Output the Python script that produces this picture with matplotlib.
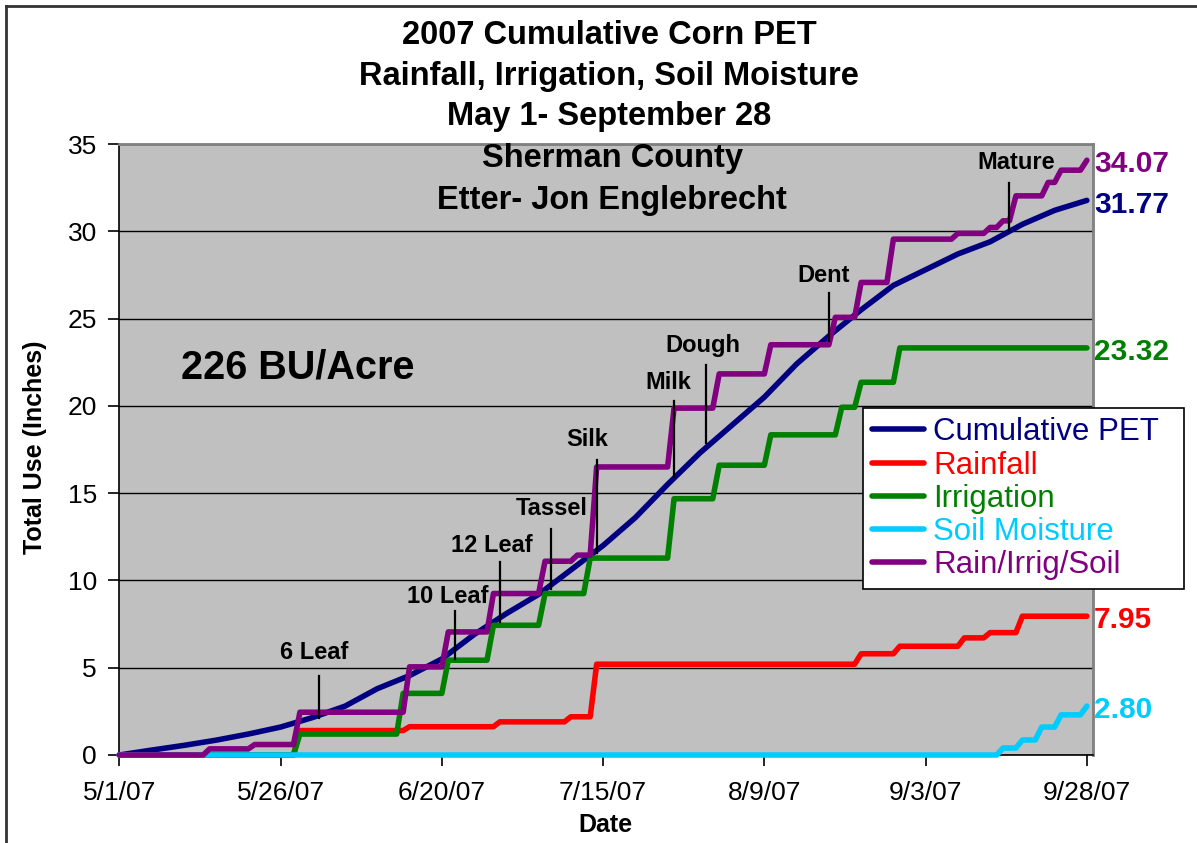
import matplotlib
matplotlib.use('Agg')
import matplotlib.pyplot as plt
from matplotlib.lines import Line2D
from datetime import datetime, timedelta

plt.rcParams['font.family'] = ['Liberation Sans', 'DejaVu Sans']

# season starts 5/1/07, all days counted from there
season_start = datetime(2007, 5, 1)
season_len = 150

# cumulative PET
pet_days = [0, 5, 10, 15, 20, 25, 30, 35, 40, 45, 50, 55, 60, 65, 70, 75,
            80, 85, 90, 95, 100, 105, 110, 115, 120, 125, 130, 135, 140, 145, 150]
pet_vals = [0.0, 0.28, 0.55, 0.85, 1.2, 1.6, 2.15, 2.8, 3.8, 4.55, 5.5, 6.9, 8.1, 9.2, 10.6, 12.0,
            13.6, 15.5, 17.3, 18.9, 20.5, 22.4, 24.0, 25.5, 26.9, 27.8, 28.7, 29.4, 30.4, 31.2, 31.77]

# step series: day the new cumulative total is reached -> total
rain_days = [27, 44, 58, 69, 73, 114, 120, 130, 134, 139]
rain_vals = [1.40, 1.62, 1.90, 2.19, 5.20, 5.80, 6.23, 6.71, 7.01, 7.95]

irr_days = [27, 43, 50, 57, 65, 72, 85, 92, 100, 111, 114, 120]
irr_vals = [1.20, 3.53, 5.43, 7.43, 9.25, 11.28, 14.68, 16.60, 18.34, 19.92, 21.35, 23.32]

soil_days = [136, 139, 142, 145, 149]
soil_vals = [0.40, 0.86, 1.60, 2.30, 2.80]

total_days = [13, 20, 27, 44, 50, 57, 65, 70, 73, 85, 92, 100, 110, 114, 119,
              129, 134, 136, 138, 143, 145, 149]
total_vals = [0.35, 0.60, 2.45, 5.05, 7.05, 9.25, 11.10, 11.45, 16.50, 19.87, 21.83, 23.50,
              25.07, 27.07, 29.55, 29.88, 30.22, 30.60, 32.03, 32.80, 33.50, 34.07]

end_labels = ['34.07', '31.77', '23.32', '7.95', '2.80']

# growth stages
stage_names = ['6 Leaf', '10 Leaf', '12 Leaf', 'Tassel', 'Silk', 'Milk', 'Dough', 'Dent', 'Mature']
stage_days = [31, 52, 59, 67, 74, 86, 91, 110, 138]
# marker line top/bottom and label position (annotation layout)
stage_lines = [(4.5, 2.1), (8.25, 5.5), (11.05, 7.6), (12.95, 9.5), (16.9, 11.55),
               (20.3, 15.95), (22.35, 17.85), (26.45, 23.7), (32.75, 30.0)]
stage_text = [(-0.8, 5.85), (-1.1, 9.1), (-1.2, 12.0), (0.0, 14.1), (-1.4, 18.05),
              (-0.9, 21.35), (-0.5, 23.45), (-0.8, 27.45), (1.0, 33.95)]

tick_days = [0, 25, 50, 75, 100, 125, 150]

colors = {'pet': '#000080', 'rain': '#FF0000', 'irr': '#008000',
          'soil': '#00CCFF', 'total': '#800080'}


def to_date(d):
    return season_start + timedelta(days=d)


def step_line(days, vals):
    xs, ys, prev = [0], [0.0], 0.0
    for d, v in zip(days, vals):
        xs += [d, d + 1]
        ys += [prev, v]
        prev = v
    if xs[-1] < season_len:
        xs.append(season_len)
        ys.append(prev)
    return [to_date(x) for x in xs], ys


W, H = 1197, 843
fig = plt.figure(figsize=(W / 100, H / 100), dpi=100)
ax = fig.add_axes([119.3 / W, 88 / H, (1092.7 - 119.3) / W, 611 / H])
ax.set_facecolor('#C0C0C0')

lw = 4
ax.plot([to_date(d) for d in pet_days], pet_vals, color=colors['pet'], lw=lw, zorder=3,
        label='Cumulative PET', solid_joinstyle='round', solid_capstyle='round', clip_on=False)
for key, days, vals, name in [('rain', rain_days, rain_vals, 'Rainfall'),
                              ('irr', irr_days, irr_vals, 'Irrigation'),
                              ('soil', soil_days, soil_vals, 'Soil Moisture'),
                              ('total', total_days, total_vals, 'Rain/Irrig/Soil')]:
    xs, ys = step_line(days, vals)
    ax.plot(xs, ys, color=colors[key], lw=lw, label=name, clip_on=False, zorder=3,
            solid_joinstyle='round', solid_capstyle='round')

# stage markers
for name, d, (top, bot), (dx, ty) in zip(stage_names, stage_days, stage_lines, stage_text):
    ax.plot([to_date(d), to_date(d)], [top, bot], color='black', lw=1.6, zorder=5)
    ax.text(to_date(d + dx), ty, name, ha='center', va='center',
            fontsize=17, fontweight='bold', zorder=5)

# end-of-season values
end_vals = [total_vals[-1], pet_vals[-1], irr_vals[-1], rain_vals[-1], soil_vals[-1]]
end_cols = [colors['total'], colors['pet'], colors['irr'], colors['rain'], colors['soil']]
for lab, v, c in zip(end_labels, end_vals, end_cols):
    ax.annotate(lab, xy=(to_date(season_len), v), xytext=(5, -3), textcoords='offset points',
                ha='left', va='center', fontsize=21.5, fontweight='bold', color=c,
                annotation_clip=False)

ax.set_xlim(to_date(0), to_date(150.9))
ax.set_ylim(0, 35)
ax.set_xticks([to_date(d) for d in tick_days])
ax.set_xticklabels([f"{to_date(d).month}/{to_date(d).day}/{to_date(d):%y}" for d in tick_days])
ax.set_yticks(range(0, 36, 5))
ax.yaxis.grid(True, color='black', lw=1)
ax.set_axisbelow(True)
ax.tick_params(axis='both', direction='out', length=8, width=1.2, labelsize=19)
ax.tick_params(axis='x', pad=11)
ax.tick_params(axis='y', pad=8)
for s in ['top', 'right']:
    ax.spines[s].set_color('#808080')
    ax.spines[s].set_linewidth(2)
for s in ['left', 'bottom']:
    ax.spines[s].set_color('black')
    ax.spines[s].set_linewidth(1.2)

leg = ax.legend(loc='upper left', bbox_to_anchor=(863 / W, 1 - 587 / H, 321 / W, 179 / H),
                bbox_transform=fig.transFigure, mode='expand', borderaxespad=0,
                fontsize=22.5, labelspacing=0.1, borderpad=0.3, handlelength=1.65,
                handletextpad=0.3, fancybox=False, framealpha=1, edgecolor='black',
                labelcolor='linecolor')
leg.get_frame().set_linewidth(1.2)
leg.set_zorder(10)

# titles and text
title_lines = ['2007 Cumulative Corn PET', 'Rainfall, Irrigation, Soil Moisture', 'May 1- September 28']
for i, t in enumerate(title_lines):
    fig.text(609 / W, 1 - (35 + 41 * i) / H, t, ha='center', va='center',
             fontsize=23.5, fontweight='bold')
fig.text(612 / W, 1 - 158 / H, 'Sherman County', ha='center', va='center', fontsize=23.5, fontweight='bold')
fig.text(612 / W, 1 - 200 / H, 'Etter- Jon Englebrecht', ha='center', va='center', fontsize=23.5, fontweight='bold')
fig.text(298 / W, 1 - 367 / H, '226 BU/Acre', ha='center', va='center', fontsize=28.5, fontweight='bold')
fig.text(35 / W, 1 - 447 / H, 'Total Use (Inches)', ha='center', va='center', rotation=90,
         fontsize=18, fontweight='bold')
fig.text(605 / W, 1 - 825 / H, 'Date', ha='center', va='center', fontsize=18, fontweight='bold')

# outer chart border (top and left only are visible)
fig.add_artist(Line2D([6 / W, 1], [1 - 6 / H, 1 - 6 / H], color='#333333', lw=2, transform=fig.transFigure))
fig.add_artist(Line2D([6 / W, 6 / W], [0, 1 - 6 / H], color='#333333', lw=2, transform=fig.transFigure))

fig.savefig('out.png', dpi=100)
